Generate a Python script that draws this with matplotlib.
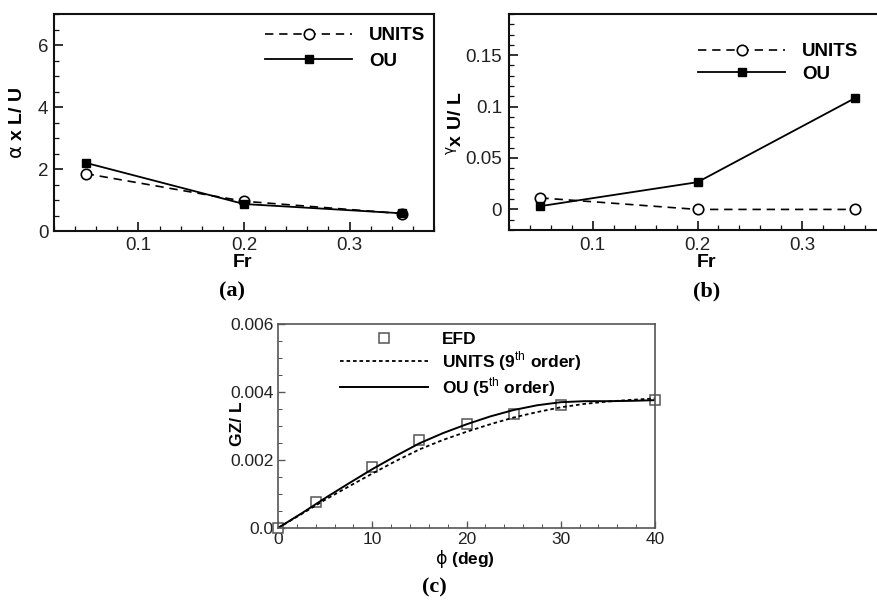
import matplotlib
matplotlib.use("Agg")
import matplotlib.pyplot as plt
from matplotlib.ticker import MultipleLocator

# ---- data ----
fr = [0.05, 0.20, 0.35]
alpha_units = [1.85, 0.96, 0.56]
alpha_ou = [2.20, 0.87, 0.57]
gamma_units = [0.0112, 0.0, 0.0]
gamma_ou = [0.0032, 0.0265, 0.108]

phi_efd = [0, 4, 10, 15, 20, 25, 30, 40]
gz_efd = [0.0, 0.00076, 0.00180, 0.00260, 0.00305, 0.00336, 0.00362, 0.00377]

phi_fit = [0, 2.5, 5, 7.5, 10, 12.5, 15, 17.5, 20, 22.5, 25, 27.5, 30, 32.5, 35, 37.5, 40]
gz_units = [0.0, 0.00041, 0.00083, 0.00122, 0.00160, 0.00197, 0.00231, 0.00259, 0.00283,
            0.00305, 0.00325, 0.00341, 0.00355, 0.00365, 0.00372, 0.00377, 0.00381]
gz_ou = [0.0, 0.00043, 0.00088, 0.00131, 0.00173, 0.00212, 0.00249, 0.00279, 0.00305,
         0.00328, 0.00347, 0.00361, 0.00370, 0.00373, 0.00373, 0.00374, 0.00376]

a_yticks = [0, 2, 4, 6]
b_yticks = [0, 0.05, 0.1, 0.15]
b_ylabels = ["0", "0.05", "0.1", "0.15"]
fr_ticks = [0.1, 0.2, 0.3]
c_xticks = [0, 10, 20, 30, 40]
c_yticks = [0, 0.002, 0.004, 0.006]
c_ylabels = ["0.0", "0.002", "0.004", "0.006"]

plt.rcParams['font.family'] = ['Liberation Sans', 'DejaVu Sans']
plt.rcParams['mathtext.fontset'] = 'custom'
plt.rcParams['mathtext.rm'] = 'Liberation Sans'
plt.rcParams['mathtext.it'] = 'DejaVu Sans'
plt.rcParams['mathtext.bf'] = 'Liberation Sans:bold'

W, H = 877, 602
fig = plt.figure(figsize=(W / 100, H / 100), dpi=100)


def px_axes(l, t, r, b):
    return fig.add_axes([l / W, 1 - b / H, (r - l) / W, (b - t) / H])


def style(ax, color, lw, fs, major_len, minor_len, pad):
    for s in ax.spines.values():
        s.set_color(color)
        s.set_linewidth(lw)
    ax.tick_params(which='both', direction='in', top=False, right=False,
                   color=color, labelcolor='#222222', labelsize=fs, pad=pad)
    ax.tick_params(which='major', length=major_len, width=lw * 0.8)
    ax.tick_params(which='minor', length=minor_len, width=lw * 0.6)


def put_label(ax, axis, text, x, y, fs):
    if axis == 'x':
        ax.set_xlabel(text, fontsize=fs, fontweight='bold')
        ax.xaxis.set_label_coords(x / W, 1 - y / H, transform=fig.transFigure)
        lab = ax.xaxis.label
    else:
        ax.set_ylabel(text, fontsize=fs, fontweight='bold')
        ax.yaxis.set_label_coords(x / W, 1 - y / H, transform=fig.transFigure)
        lab = ax.yaxis.label
    lab.set_va('center')
    lab.set_ha('center')


# ---- (a) ----
ax1 = px_axes(54, 14, 434, 231)
ax1.plot(fr, alpha_units, color='black', lw=1.2, dashes=(5, 3.5), marker='o', ms=7.5,
         mfc='white', mec='black', mew=1.2, label='UNITS')
ax1.plot(fr, alpha_ou, color='black', lw=1.3, marker='s', ms=6, mfc='black', mec='black',
         label='OU')
ax1.set_xlim(0.02, 0.38)
ax1.set_ylim(0, 7)
ax1.set_xticks(fr_ticks, [f"{v:g}" for v in fr_ticks])
ax1.set_yticks(a_yticks, [str(v) for v in a_yticks])
ax1.xaxis.set_minor_locator(MultipleLocator(0.02))
ax1.yaxis.set_minor_locator(MultipleLocator(0.5))
style(ax1, '#111111', 1.5, 13.5, 6.5, 3.5, 4)
put_label(ax1, 'x', 'Fr', 243, 262, 14)
put_label(ax1, 'y', r'$\alpha$ x L/ U', 17, 123, 14)
ax1.legend(loc='upper left', bbox_to_anchor=(265 / W, 1 - 27 / H), bbox_transform=fig.transFigure,
           frameon=False, prop={'weight': 'bold', 'size': 13.5}, borderpad=0,
           borderaxespad=0, handlelength=4.64, handletextpad=0.9, labelspacing=0.45, numpoints=1)
fig.text(232 / W, 1 - 291 / H, '(a)', family='Liberation Serif', fontweight='bold', fontsize=16,
         ha='center', va='center')

# ---- (b) ----
ax2 = px_axes(509, 14, 886, 230)
ax2.plot(fr, gamma_units, color='black', lw=1.2, dashes=(5, 3.5), marker='o', ms=7.5,
         mfc='white', mec='black', mew=1.2, label='UNITS')
ax2.plot(fr, gamma_ou, color='black', lw=1.3, marker='s', ms=6, mfc='black', mec='black',
         label='OU')
ax2.set_xlim(0.02, 0.38)
ax2.set_ylim(-0.02, 0.19)
ax2.set_xticks(fr_ticks, [f"{v:g}" for v in fr_ticks])
ax2.set_yticks(b_yticks, b_ylabels)
ax2.xaxis.set_minor_locator(MultipleLocator(0.02))
ax2.yaxis.set_minor_locator(MultipleLocator(0.01))
style(ax2, '#111111', 1.5, 13.5, 6.5, 3.5, 5)
put_label(ax2, 'x', 'Fr', 707, 262, 14)
put_label(ax2, 'y', r'${}^{\gamma}$x U/ L', 456, 123, 14)
ax2.legend(loc='upper left', bbox_to_anchor=(698 / W, 1 - 43 / H), bbox_transform=fig.transFigure,
           frameon=False, prop={'weight': 'bold', 'size': 13.5}, borderpad=0,
           borderaxespad=0, handlelength=4.64, handletextpad=0.9, labelspacing=0.3, numpoints=1)
fig.text(707 / W, 1 - 291 / H, '(b)', family='Liberation Serif', fontweight='bold', fontsize=16,
         ha='center', va='center')

# ---- (c) ----
ax3 = px_axes(278, 324, 655, 528)
ax3.plot(phi_efd, gz_efd, ls='none', marker='s', ms=7.5, mfc='white', mec='#555555', mew=1.1,
         label='EFD', clip_on=False)
ax3.plot(phi_fit, gz_units, color='black', lw=1.3, ls=(0, (2.0, 1.6)),
         label=r'UNITS (9$^{\mathrm{th}}$ order)')
ax3.plot(phi_fit, gz_ou, color='black', lw=1.4, label=r'OU (5$^{\mathrm{th}}$ order)')
ax3.set_xlim(0, 40)
ax3.set_ylim(0, 0.006)
ax3.set_xticks(c_xticks, [str(v) for v in c_xticks])
ax3.set_yticks(c_yticks, c_ylabels)
ax3.xaxis.set_minor_locator(MultipleLocator(2))
ax3.yaxis.set_minor_locator(MultipleLocator(0.0005))
style(ax3, '#555555', 1.2, 12.5, 5, 3, 3)
put_label(ax3, 'x', r'$\phi$ (deg)', 465, 559, 12.5)
put_label(ax3, 'y', 'GZ/ L', 238, 424, 12.5)
ax3.legend(loc='upper left', bbox_to_anchor=(340 / W, 1 - 332 / H), bbox_transform=fig.transFigure,
           frameon=False, prop={'weight': 'bold', 'size': 12.5}, borderpad=0,
           borderaxespad=0, handlelength=5.06, handletextpad=0.8, labelspacing=0.12, numpoints=1)
fig.text(434 / W, 1 - 587 / H, '(c)', family='Liberation Serif', fontweight='bold', fontsize=16,
         ha='center', va='center')

fig.savefig('out.png', dpi=100)
